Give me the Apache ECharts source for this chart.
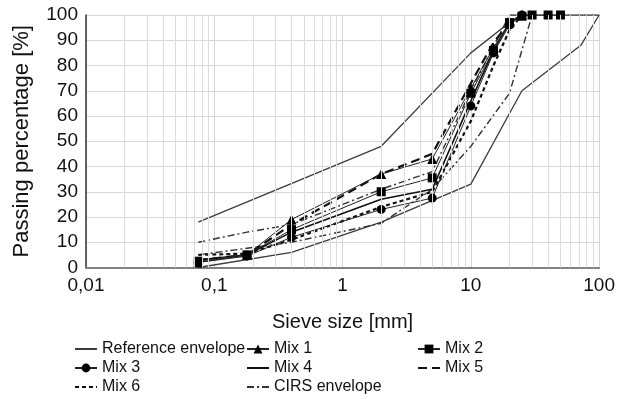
<!DOCTYPE html>
<html>
<head>
<meta charset="utf-8">
<script src="https://cdn.jsdelivr.net/npm/echarts@6/dist/echarts.min.js"></script>
<style>
  html, body { margin: 0; padding: 0; background: #fff; }
  #chart { width: 618px; height: 399px; }
</style>
</head>
<body>
<div id="chart"></div>
<script>
// sieve sizes [mm]
var sieve = [0.075, 0.18, 0.4, 2, 5, 10, 15, 20, 25];
var sieveMix2 = [0.075, 0.18, 0.4, 2, 5, 10, 15, 20, 25, 30, 40, 50];

// passing percentage of the mixes
var mix1 = [2, 5, 19, 37, 43, 71, 87, 97, 100];
var mix2 = [2.5, 5, 15, 30, 35.5, 69, 86, 97, 99.5, 100, 100, 100];
var mix3 = [2, 4.5, 12, 23, 27.5, 64, 85, 96, 100];
var mix4 = [3, 5, 14, 27, 31, 66, 86, 97, 100];
var mix5 = [3, 5, 17, 37, 45, 73, 89, 97, 100];
var mix6 = [5, 5.5, 11, 24, 30, 58, 80, 94, 100];

// envelopes (upper side then lower side)
var refX = [0.075, 2, 10, 20, 25, 100, 72, 25, 10, 2, 0.4, 0.075];
var refY = [18, 48, 85, 97, 100, 100, 88, 70, 33, 18, 6, 0];
var cirsX = [0.075, 0.18, 0.4, 2, 5, 10, 20, 30, 20, 10, 5, 2, 0.4, 0.075];
var cirsY = [10, 14, 17, 31, 38, 70, 100, 100, 69, 48, 31, 17.5, 10, 5];

function pairs(xs, ys) {
  var out = [];
  for (var i = 0; i < ys.length; i++) out.push([xs[i], ys[i]]);
  return out;
}

// minor vertical grid lines 2..9 in every decade
var minorX = [];
[0.01, 0.1, 1, 10].forEach(function (d) {
  for (var k = 2; k <= 9; k++) minorX.push({ xAxis: +(d * k).toPrecision(3) });
});

var FONT = '"Liberation Sans", Arial, sans-serif';

// one legend entry per component, so the three columns line up
function legendAt(name, left, top, noMarker) {
  var item = { name: name };
  if (noMarker) item.itemStyle = { opacity: 0 };
  return {
    left: left, top: top, padding: 0,
    itemWidth: 22, itemHeight: 11,
    textStyle: { fontSize: 16, color: '#111', lineHeight: 16, fontFamily: FONT },
    data: [item]
  };
}

var chart = echarts.init(document.getElementById('chart'), null, { renderer: 'canvas' });

var thin = { color: '#222', width: 1 };

chart.setOption({
  animation: false,
  textStyle: { fontFamily: FONT },
  grid: { left: 86, right: 18, top: 15, bottom: 131.5 },
  legend: [
    legendAt('Reference envelope', 74, 341, true),
    legendAt('Mix 1', 246, 341),
    legendAt('Mix 2', 417, 341),
    legendAt('Mix 3', 74, 360),
    legendAt('Mix 4', 246, 360, true),
    legendAt('Mix 5', 417, 360, true),
    legendAt('Mix 6', 74, 379, true),
    legendAt('CIRS envelope', 246, 379, true)
  ],
  xAxis: {
    type: 'log',
    logBase: 10,
    min: 0.01,
    max: 100,
    name: 'Sieve size [mm]',
    nameLocation: 'middle',
    nameGap: 45,
    nameTextStyle: { fontSize: 20, color: '#111', fontFamily: FONT },
    axisLine: { onZero: false, lineStyle: { color: '#808080', width: 2 } },
    axisTick: { show: false },
    axisLabel: {
      fontSize: 19, color: '#111', margin: 9, fontFamily: FONT,
      formatter: function (v) { return String(v).replace('.', ','); }
    },
    splitLine: { show: true, lineStyle: { color: '#d6d6d6', width: 1 } }
  },
  yAxis: {
    type: 'value',
    min: 0,
    max: 100,
    interval: 10,
    name: 'Passing percentage [%]',
    nameLocation: 'middle',
    nameGap: 53,
    nameTextStyle: { fontSize: 22, color: '#111', fontFamily: FONT },
    axisLine: { show: true, lineStyle: { color: '#333', width: 1.5 } },
    axisTick: { show: false },
    axisLabel: { fontSize: 19, color: '#111', margin: 8, fontFamily: FONT },
    splitLine: { show: true, lineStyle: { color: '#d6d6d6', width: 1 } }
  },
  series: [
    {
      name: 'minor grid',
      type: 'line',
      data: [],
      z: 1,
      silent: true,
      markLine: {
        silent: true,
        symbol: 'none',
        label: { show: false },
        lineStyle: { color: '#dcdcdc', width: 1, type: 'solid' },
        data: minorX
      }
    },
    {
      name: 'Reference envelope',
      type: 'line',
      data: pairs(refX, refY),
      symbol: 'none',
      lineStyle: { color: '#3c3c3c', width: 1.3 },
      itemStyle: { color: '#3c3c3c' },
      z: 2
    },
    {
      name: 'CIRS envelope',
      type: 'line',
      data: pairs(cirsX, cirsY),
      symbol: 'none',
      lineStyle: { color: '#333', width: 1.4, type: [7, 3, 2, 3] },
      itemStyle: { color: '#333' },
      z: 2
    },
    {
      name: 'Mix 4',
      type: 'line',
      data: pairs(sieve, mix4),
      symbol: 'none',
      lineStyle: { color: '#111', width: 1.6 },
      itemStyle: { color: '#111' },
      z: 3
    },
    {
      name: 'Mix 5',
      type: 'line',
      data: pairs(sieve, mix5),
      symbol: 'none',
      lineStyle: { color: '#111', width: 2.2, type: [9, 5] },
      itemStyle: { color: '#111' },
      z: 3
    },
    {
      name: 'Mix 6',
      type: 'line',
      data: pairs(sieve, mix6),
      symbol: 'none',
      lineStyle: { color: '#111', width: 2.2, type: [4, 3] },
      itemStyle: { color: '#111' },
      z: 3
    },
    {
      name: 'Mix 1',
      type: 'line',
      data: pairs(sieve, mix1),
      symbol: 'triangle',
      symbolSize: 10,
      lineStyle: thin,
      itemStyle: { color: '#000' },
      z: 4
    },
    {
      name: 'Mix 2',
      type: 'line',
      data: pairs(sieveMix2, mix2),
      symbol: 'rect',
      symbolSize: 9,
      lineStyle: thin,
      itemStyle: { color: '#000' },
      z: 4
    },
    {
      name: 'Mix 3',
      type: 'line',
      data: pairs(sieve, mix3),
      symbol: 'circle',
      symbolSize: 9,
      lineStyle: thin,
      itemStyle: { color: '#000' },
      z: 4
    }
  ]
});
</script>
</body>
</html>
